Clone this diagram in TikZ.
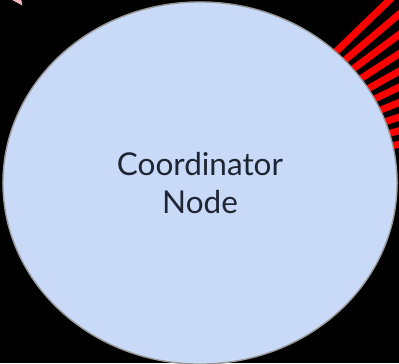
\documentclass[tikz,border=0pt]{standalone}
\usepackage{fontspec}
\setmainfont{Lato}
\usetikzlibrary{shapes.geometric,calc}

\definecolor{nodeblue}{HTML}{C9DAF8}
\definecolor{rimgray}{HTML}{9A9A9A}
\definecolor{textgray}{HTML}{1E2533}
\definecolor{tippink}{HTML}{F4B8B8}

\tikzset{
  link/.style={red, line width=5pt},
  coordnode/.style={ellipse, fill=nodeblue, draw=rimgray, line width=1pt,
    minimum width=9.85cm, minimum height=9.05cm, inner sep=0pt,
    align=center, text=textgray, font=\fontsize{22.4}{27}\selectfont}
}

\begin{document}
\begin{tikzpicture}[x=0.025cm, y=-0.025cm]
\useasboundingbox (0,0) rectangle (399,363);
\fill[black] (0,0) rectangle (399,363);
\clip (0,0) rectangle (399,363);

\coordinate (c) at (200,183);
\foreach \a [count=\i] in {44,40.3,36.7,33,29.3,25.7,22,18.3,14.7,11} {
  \coordinate (w\i) at ($(c)+({400*cos(\a)},{-400*sin(\a)})$);
  \draw[link] (c) -- (w\i);
}

\filldraw[tippink] (13,0) -- (21,0) -- (22,5) -- cycle;

\node[coordnode] (coord) at (c) {Coordinator\\Node};

\end{tikzpicture}
\end{document}
